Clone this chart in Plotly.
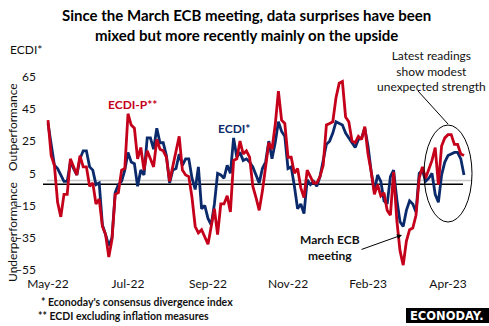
import plotly.graph_objects as go

# Econoday consensus divergence index (ECDI) and ECDI excluding inflation (ECDI-P)
ecdi = [36, 22, 10, 8, 4, 0, 0, 12, 8, 4,
        14, 19, 19, 9, 7, -2, -1, -27, -33, -40,
        -35, -7, -2, 0, 7, 18, 12, 11, -3, 7,
        4, 27, 27, 20, 33, 24, 24, 16, -1, 7,
        8, 17, 10, 14, 14, 2, -5, 9, -17, -15,
        -23, -27, -14, 5, 4, 2, 10, 5, 27, 15,
        18, 13, 14, 12, 9, 4, -1, 8, 12, 25,
        14, 24, 37, 31, 28, 8, 9, -3, -17, -14,
        -20, 1, -2, 0, -3, 3, 12, 23, 25, 30,
        37, 36, 35, 30, 27, 24, 21, 26, 27, 33,
        22, 6, -6, 4, 0, -12, -14, 3, 7, -11,
        -25, -28, -18, -12, -14, -19, 5, 7, 0, 2,
        5, -8, -13, 4, 12, 16, 17, 18, 18, 14,
        4]

ecdi_p = [38, 16, 10, -13, -22, -8, -8, 14, 9, 4,
          16, 9, 9, -3, -1, -14, -11, -28, -33, -47,
          -36, -8, -7, 7, 8, 42, 35, 33, 14, 21,
          7, 19, 14, 9, 26, 20, 19, 15, 0, 9,
          20, 28, 7, 4, 3, -10, -28, -32, -30, -35,
          -39, -28, -17, -33, -14, -14, -9, -19, 13, 14,
          25, 17, 19, 15, -3, -10, -18, -6, 8, 24,
          20, 35, 56, 38, 36, 15, 15, 5, 8, -4,
          -10, 7, 3, -1, -1, 3, 10, 35, 36, 37,
          52, 61, 62, 40, 37, 25, 24, 28, 26, 34,
          17, 6, -8, -2, -9, -7, -18, -21, 6, -24,
          -43, -52, -37, -30, -29, -21, 2, 9, 2, 7,
          13, 21, -2, 22, 27, 29, 29, 23, 23, 17,
          16]

tick_pos = [0, 25, 50, 75, 100, 125]
tick_text = ["May-22", "Jul-22", "Sep-22", "Nov-22", "Feb-23", "Apr-23"]
y_ticks = [-55, -35, -15, 5, 25, 45, 65]

W, H = 489, 326
L, R, T, B = 40, 9, 72, 51
PW, PH = W - L - R, H - T - B

def px(X):
    return (X - L) / PW

def py(Y):
    return (H - B - Y) / PH

FONT = "Lato"
INK = "#111111"
RED = "#C4001A"
BLUE = "#0B2A6B"

idx = list(range(len(ecdi)))

fig = go.Figure()
fig.add_trace(go.Scatter(x=idx, y=ecdi, mode="lines",
                         line=dict(color=BLUE, width=2.8), name="ECDI*"))
fig.add_trace(go.Scatter(x=idx, y=ecdi_p, mode="lines",
                         line=dict(color=RED, width=2.8), name="ECDI-P**"))

shapes = [
    # light reference line and black baseline
    dict(type="line", xref="paper", yref="y", x0=px(47), x1=px(472), y0=0.5, y1=0.5,
         line=dict(color="#c8c8c8", width=1.5), layer="below"),
    dict(type="line", xref="paper", yref="y", x0=px(43), x1=px(463), y0=-1.7, y1=-1.7,
         line=dict(color="black", width=1.5), layer="below"),
    # ellipse around the latest readings
    dict(type="circle", xref="paper", yref="paper", x0=px(424), x1=px(472),
         y0=py(222), y1=py(125), line=dict(color="black", width=1)),
    dict(type="line", xref="paper", yref="paper", x0=px(418), y0=py(91),
         x1=px(448), y1=py(124), line=dict(color="black", width=1)),
    # logo block
    dict(type="rect", xref="paper", yref="paper", x0=px(406), x1=px(489),
         y0=py(323), y1=py(308), fillcolor="black", line=dict(width=0)),
]

def note(text, X, Y, size=12, color=INK, bold=False, angle=0, xanchor="center"):
    return dict(text=f"<b>{text}</b>" if bold else text, xref="paper", yref="paper",
                x=px(X), y=py(Y), xanchor=xanchor, yanchor="middle", showarrow=False,
                textangle=angle, font=dict(family=FONT, size=size, color=color))

annotations = [
    note("Since the March ECB meeting, data surprises have been<br>"
         "mixed but more recently mainly on the upside", 246, 25, size=15, color="black", bold=True),
    note("ECDI*", 26, 50, size=12),
    note("Outperformance", 12, 127, size=12, angle=-90),
    note("Underperformance", 12, 232, size=12, angle=-90),
    note("ECDI-P**", 132, 104, size=12, color=RED, bold=True),
    note("ECDI*", 234, 128, size=12, color=BLUE, bold=True),
    note("Latest readings<br>show modest<br>unexpected strength", 431, 71, size=12),
    note("March ECB<br>meeting", 330, 247, size=12, bold=True),
    note("* Econoday's consensus divergence index", 39, 302, size=10.5, bold=True, xanchor="left"),
    note("** ECDI excluding inflation measures", 36, 316, size=10.5, bold=True, xanchor="left"),
    dict(text="<b>ECONODAY.</b>", xref="paper", yref="paper", x=px(447), y=py(315.5),
         xanchor="center", yanchor="middle", showarrow=False,
         font=dict(family="DejaVu Sans", size=11.5, color="white")),
    # arrow pointing at the March ECB meeting trough
    dict(text="", xref="paper", yref="paper", x=px(402), y=py(235), ax=-42, ay=15,
         showarrow=True, arrowhead=2, arrowsize=1, arrowwidth=1, arrowcolor="black"),
]

fig.update_layout(
    width=W, height=H,
    margin=dict(l=L, r=R, t=T, b=B),
    paper_bgcolor="white", plot_bgcolor="white",
    showlegend=False,
    shapes=shapes, annotations=annotations,
    xaxis=dict(range=[(L - 48) / 3.2, (W - R - 48) / 3.2], tickvals=tick_pos, ticktext=tick_text,
               showgrid=False, zeroline=False, showline=False, ticks="",
               tickfont=dict(family=FONT, size=12, color=INK)),
    yaxis=dict(range=[-58.1, 67.9], tickvals=y_ticks, showgrid=False, zeroline=False,
               showline=False, ticks="", ticklabelstandoff=3,
               tickfont=dict(family=FONT, size=12, color=INK)),
)

fig.write_html("out.html")
